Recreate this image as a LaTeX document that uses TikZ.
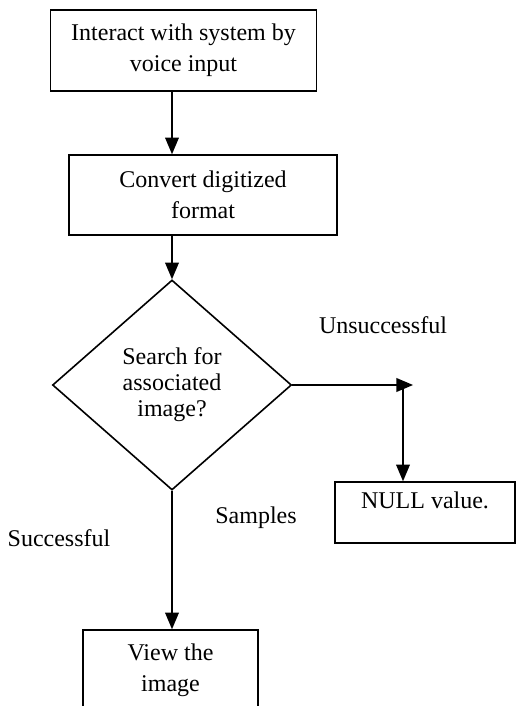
\documentclass[tikz,border=0pt]{standalone}
\usepackage{fontspec}
\setmainfont{Liberation Serif}
\usepackage{tikz}
\usetikzlibrary{shapes.geometric, arrows}

\begin{document}
\begin{tikzpicture}[
    x=0.5pt, y=-0.5pt,
    font=\fontsize{12}{15.5}\selectfont,
    block/.style={rectangle, draw, line width=0.8pt, text centered, align=center, inner sep=0pt},
    decision/.style={diamond, draw, line width=0.8pt, align=center, inner sep=0pt, font=\fontsize{12}{13}\selectfont},
    arrow/.style={line width=0.9pt,->,>=triangle 45},
    label/.style={inner sep=0pt}
]
\clip (0,0) rectangle (517,706);

% Steps
\node[block, minimum width=133pt, minimum height=40.5pt] (input) at (183.5,50.5) {Interact with system by\\voice input};
\node[block, minimum width=134pt, minimum height=40pt] (convert) at (203,195) {Convert digitized\\format};
\node[decision, minimum width=119.5pt, minimum height=105pt] (search) at (172,385) {Search for\\associated\\image?};
\node[block, minimum width=90pt, minimum height=30.5pt, text depth=12pt] (null) at (425,512.5) {NULL value.};
\node[block, minimum width=87.5pt, minimum height=40pt] (view) at (170.5,670) {View the\\image};

% Turn points
\coordinate (uend) at (413,385);
\coordinate (drop) at (403,385);

% Arrows
\draw[arrow] (input.south -| search.north) -- (convert.north -| search.north);
\draw[arrow] (convert.south -| search.north) -- (search.north);
\draw[arrow] (search.east) -- (uend);
\draw[arrow] (drop) -- (drop |- null.north);
\draw[arrow] (search.south) -- (search.south |- view.north);

% Labels
\node[label] (unsucc) at (383,325) {Unsuccessful};
\node[label] (samples) at (256,518) {Samples};
\node[label] (succ) at (59,538) {Successful};

\end{tikzpicture}
\end{document}
